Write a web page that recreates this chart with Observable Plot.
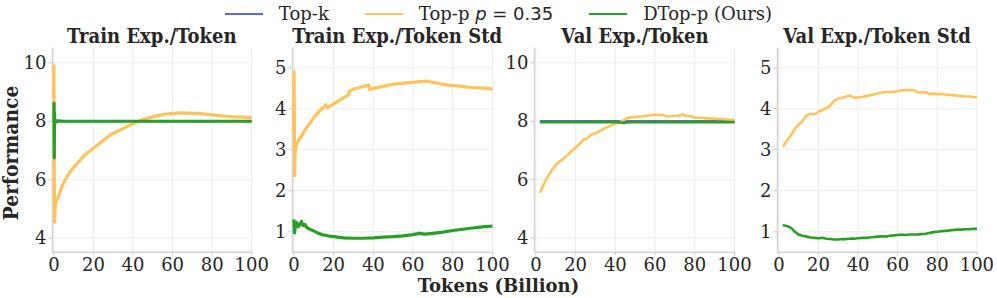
<!DOCTYPE html>
<html><head><meta charset="utf-8">
<script src="https://cdn.jsdelivr.net/npm/d3@7"></script>
<script src="https://cdn.jsdelivr.net/npm/@observablehq/plot@0.6"></script>
<style>
html,body{margin:0;padding:0;background:#fff;}
#wrap{position:relative;width:997px;height:298px;overflow:hidden;font-family:"DejaVu Serif",serif;color:#262626;}
#legend{position:absolute;left:0;top:5px;width:997px;display:flex;justify-content:center;align-items:center;font-size:18px;line-height:18px;}
.item{display:flex;align-items:center;margin:0 18px;}
.sw{width:38px;height:0;border-top:2.6px solid;margin-right:16px;}
.math{font-family:"DejaVu Sans",sans-serif;}
.title{position:absolute;top:28px;text-align:center;font-weight:bold;font-size:18px;line-height:18px;white-space:nowrap;transform:scaleY(1.12);transform-origin:50% 100%;}
.panel{position:absolute;top:0;}
#ylab{position:absolute;left:11px;top:153px;transform:translate(-50%,-50%) rotate(-90deg) scale(1.04,1.1);font-weight:bold;font-size:18px;white-space:nowrap;line-height:18px;}
#xlab{position:absolute;left:0;width:997px;top:277px;text-align:center;font-weight:bold;font-size:18px;line-height:18px;}
</style></head>
<body><div id="wrap"><div id="legend"></div><div id="ylab"></div><div id="xlab"></div></div>
<script>
// ---------- data ----------
const seriesNames = ["Top-k", "Top-p", "DTop-p (Ours)"];
const seriesColors = ["#6262f4", "#ffc35a", "#28a028"];
const topPValue = 0.35;
const panelTitles = ["Train Exp./Token", "Train Exp./Token Std", "Val Exp./Token", "Val Exp./Token Std"];
const xTicks = [0, 20, 40, 60, 80, 100];
const yTicksExp = [4, 6, 8, 10];
const yTicksStd = [1, 2, 3, 4, 5];
const xAxisLabel = "Tokens (Billion)";
const yAxisLabel = "Performance";

// Train Exp./Token
const trainExpTopK = [[0, 8.0], [100, 8.0]];
const trainExpTopP = [[0, 9.93], [0.3, 4.55], [0.7, 5.1], [1.1, 5.32], [1.6, 5.3], [2.2, 5.42], [3, 5.58], [4, 5.75], [5, 5.9], [7, 6.15], [9, 6.35], [11, 6.5], [13, 6.65], [15, 6.8], [17, 6.92], [20, 7.08], [23, 7.24], [26, 7.4], [29, 7.55], [32, 7.65], [35, 7.75], [38, 7.85], [41, 7.95], [44, 8.03], [47, 8.1], [50, 8.15], [53, 8.2], [56, 8.24], [59, 8.26], [62, 8.28], [65, 8.29], [68, 8.28], [71, 8.27], [74, 8.26], [77, 8.24], [80, 8.22], [83, 8.2], [86, 8.18], [89, 8.16], [92, 8.15], [95, 8.14], [98, 8.13], [100, 8.12]];
const trainExpDTopP = [[0, 8.0], [0.08, 8.62], [0.2, 6.75], [0.32, 8.3], [0.45, 7.92], [0.7, 8.04], [1.2, 7.98], [2, 8.01], [5, 8.0], [20, 8.0], [40, 8.0], [60, 8.0], [80, 8.0], [100, 8.0]];

// Train Exp./Token Std
const trainStdTopP = [[0, 3.5], [0.1, 4.9], [0.35, 2.37], [0.6, 2.9], [1, 3.05], [1.5, 3.15], [2.5, 3.25], [4, 3.35], [5.5, 3.48], [7, 3.58], [8.5, 3.68], [10, 3.78], [11.5, 3.87], [13, 3.95], [14.5, 4.02], [16, 4.1], [17, 4.03], [18.5, 4.07], [20, 4.12], [22, 4.18], [24, 4.24], [26, 4.3], [27.3, 4.33], [27.7, 4.42], [30, 4.48], [33, 4.52], [36, 4.56], [37.8, 4.58], [38.2, 4.47], [40, 4.5], [43, 4.53], [46, 4.56], [50, 4.6], [54, 4.62], [58, 4.64], [62, 4.66], [65, 4.67], [67, 4.68], [69, 4.65], [72, 4.63], [75, 4.6], [78, 4.58], [82, 4.56], [86, 4.54], [90, 4.52], [94, 4.51], [97, 4.5], [100, 4.48]];
const trainStdDTopP = [[0, 1.3], [0.3, 0.97], [0.8, 1.15], [1.5, 1.22], [2.2, 1.12], [3, 1.18], [3.8, 1.25], [4.5, 1.15], [5.5, 1.18], [6.5, 1.1], [8, 1.06], [10, 1.02], [12, 0.97], [14, 0.93], [17, 0.9], [20, 0.88], [25, 0.85], [30, 0.84], [35, 0.84], [40, 0.85], [45, 0.87], [50, 0.88], [55, 0.9], [60, 0.93], [63, 0.96], [66, 0.94], [70, 0.96], [75, 0.99], [80, 1.03], [85, 1.06], [90, 1.09], [95, 1.12], [100, 1.14]];

// Val Exp./Token
const valExpTopK = [[2, 8.0], [100, 8.0]];
const valExpTopP = [[2, 5.55], [4, 5.85], [6, 6.1], [8, 6.33], [10, 6.5], [12, 6.62], [14, 6.73], [16, 6.85], [18, 6.98], [20, 7.1], [22, 7.22], [24, 7.38], [26, 7.42], [28, 7.55], [30, 7.6], [32, 7.66], [34, 7.74], [36, 7.8], [38, 7.86], [40, 7.91], [42, 7.96], [44, 8.03], [46, 8.1], [48, 8.14], [50, 8.15], [52, 8.16], [54, 8.17], [56, 8.19], [58, 8.21], [60, 8.22], [62, 8.22], [64, 8.21], [66, 8.16], [68, 8.17], [70, 8.18], [72, 8.2], [74, 8.23], [76, 8.18], [78, 8.18], [80, 8.12], [82, 8.12], [84, 8.11], [86, 8.1], [88, 8.1], [90, 8.09], [92, 8.08], [94, 8.07], [96, 8.06], [98, 8.05], [100, 8.04]];
const valExpDTopP = [[2, 7.97], [10, 7.98], [20, 7.97], [30, 7.98], [40, 7.97], [44, 7.95], [48, 7.97], [60, 7.97], [70, 7.97], [80, 7.98], [90, 7.97], [100, 7.97]];

// Val Exp./Token Std
const valStdTopP = [[2, 3.08], [4, 3.22], [6, 3.35], [8, 3.5], [10, 3.62], [12, 3.7], [14, 3.84], [16, 3.88], [18, 3.86], [20, 3.93], [22, 3.97], [24, 4.02], [26, 4.08], [28, 4.2], [30, 4.25], [32, 4.27], [34, 4.3], [36, 4.32], [38, 4.27], [40, 4.28], [42, 4.29], [44, 4.31], [46, 4.33], [48, 4.35], [50, 4.38], [52, 4.4], [54, 4.41], [56, 4.41], [58, 4.42], [60, 4.43], [62, 4.45], [64, 4.46], [66, 4.46], [68, 4.46], [70, 4.4], [72, 4.4], [74, 4.41], [76, 4.36], [78, 4.37], [80, 4.36], [82, 4.36], [84, 4.35], [86, 4.34], [88, 4.33], [90, 4.32], [92, 4.31], [94, 4.3], [96, 4.3], [98, 4.29], [100, 4.28]];
const valStdDTopP = [[2, 1.16], [4, 1.14], [6, 1.1], [8, 1.0], [10, 0.93], [12, 0.9], [14, 0.88], [16, 0.86], [18, 0.85], [20, 0.84], [22, 0.85], [24, 0.83], [26, 0.82], [28, 0.81], [30, 0.81], [32, 0.82], [34, 0.82], [36, 0.83], [38, 0.83], [40, 0.84], [42, 0.85], [44, 0.85], [46, 0.86], [48, 0.87], [50, 0.88], [52, 0.89], [54, 0.88], [56, 0.9], [58, 0.91], [60, 0.92], [62, 0.93], [64, 0.92], [66, 0.93], [68, 0.93], [70, 0.93], [72, 0.94], [74, 0.95], [76, 0.97], [78, 0.99], [80, 1.0], [82, 1.01], [84, 1.02], [86, 1.03], [88, 1.04], [90, 1.05], [92, 1.05], [94, 1.06], [96, 1.06], [98, 1.07], [100, 1.07]];

// ---------- layout ----------
const plotLeft = [51.5, 292.3, 534.3, 776.6];
const plotRight = [252.1, 493.7, 735.7, 977.4];
const plotTop = 47.7, plotBottom = 251.7, H = 298;
const xDomain = [-0.7, 100.7];
const yDomainExp = [3.52, 10.5];
const yDomainStd = [0.5, 5.48];
const textStretch = 1.06;

const wrap = document.getElementById("wrap");

// legend
const legend = document.getElementById("legend");
seriesNames.forEach((name, i) => {
  const it = document.createElement("div");
  it.className = "item";
  const sw = document.createElement("div");
  sw.className = "sw";
  sw.style.borderTopColor = seriesColors[i];
  it.appendChild(sw);
  const lab = document.createElement("span");
  if (name === "Top-p") {
    lab.innerHTML = name + " <span class='math'><i>p</i> = " + topPValue + "</span>";
  } else lab.textContent = name;
  it.appendChild(lab);
  legend.appendChild(it);
});
document.getElementById("ylab").textContent = yAxisLabel;
document.getElementById("xlab").textContent = xAxisLabel;

const panels = [
  {series: [[trainExpTopK, 0, 2], [trainExpTopP, 1, 3.2], [trainExpDTopP, 2, 3.2]], yDomain: yDomainExp, yTicks: yTicksExp},
  {series: [[trainStdTopP, 1, 3.2], [trainStdDTopP, 2, 3.2]], yDomain: yDomainStd, yTicks: yTicksStd},
  {series: [[valExpTopK, 0, 2.6], [valExpTopP, 1, 2.6], [valExpDTopP, 2, 2.6]], yDomain: yDomainExp, yTicks: yTicksExp},
  {series: [[valStdTopP, 1, 2.6], [valStdDTopP, 2, 2.6]], yDomain: yDomainStd, yTicks: yTicksStd}
];

panels.forEach((p, i) => {
  const L = plotLeft[i], R = plotRight[i];
  const svgLeft = L - 45, W = (R - L) + 45 + 16;
  const marks = [
    Plot.gridX(xTicks, {stroke: "#ececec", strokeOpacity: 1, strokeWidth: 1}),
    Plot.gridY(p.yTicks, {stroke: "#ececec", strokeOpacity: 1, strokeWidth: 1}),
    Plot.ruleX([xDomain[0]], {stroke: "#d6d6d6", strokeWidth: 1.6}),
    Plot.ruleY([p.yDomain[0]], {stroke: "#d6d6d6", strokeWidth: 1.6}),
    Plot.axisX(xTicks, {tickSize: 3.5, tickPadding: 1.5, stroke: "#c8c8c8", fill: "#262626", fontSize: 18, label: null}),
    Plot.axisY(p.yTicks, {tickSize: 3.5, tickPadding: 2.5, stroke: "#c8c8c8", fill: "#262626", fontSize: 18, label: null}),
    ...p.series.map(([data, ci, w]) => Plot.line(data, {x: d => d[0], y: d => d[1], stroke: seriesColors[ci], strokeWidth: w, strokeLinejoin: "round", strokeLinecap: "butt"}))
  ];
  const svg = Plot.plot({
    width: W, height: H,
    marginLeft: L - svgLeft, marginRight: W - (R - svgLeft),
    marginTop: plotTop, marginBottom: H - plotBottom,
    x: {domain: xDomain},
    y: {domain: p.yDomain},
    style: {fontFamily: "DejaVu Serif", fontSize: "18px", color: "#262626", background: "transparent", overflow: "visible"},
    marks
  });
  // stretch tick labels slightly in height to match the reference's taller glyphs
  svg.querySelectorAll("text").forEach(t => {
    const tr = t.getAttribute("transform");
    if (tr) t.setAttribute("transform", tr + ` scale(1,${textStretch})`);
  });
  svg.classList.add("panel");
  svg.style.left = svgLeft + "px";
  wrap.appendChild(svg);
  const t = document.createElement("div");
  t.className = "title";
  t.style.left = L + "px";
  t.style.width = (R - L) + "px";
  t.textContent = panelTitles[i];
  wrap.appendChild(t);
});
</script></body></html>
